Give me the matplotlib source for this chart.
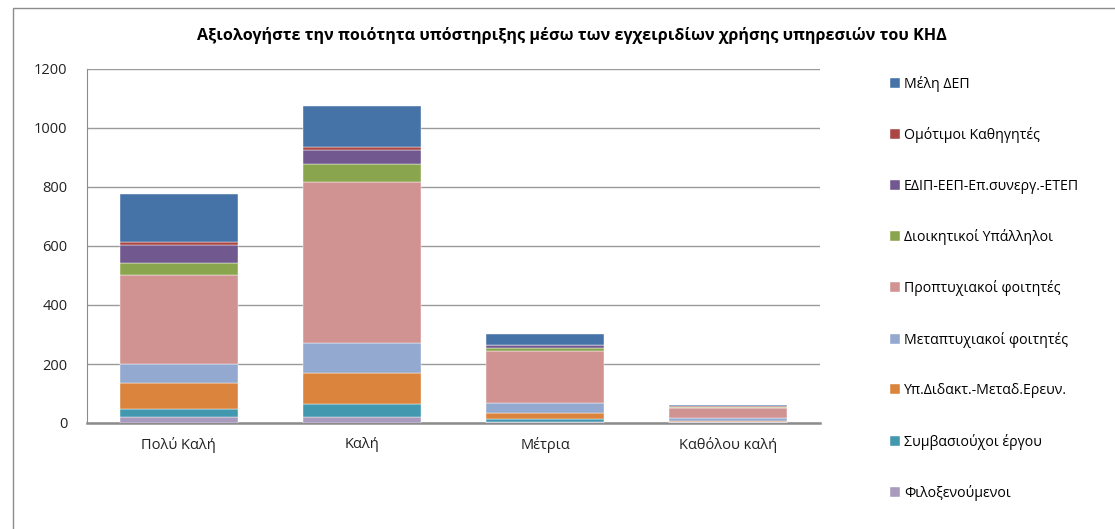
import numpy as np
import matplotlib.pyplot as plt
from matplotlib.patches import Rectangle

plt.rcParams['font.family'] = ['Open Sans', 'DejaVu Sans']

categories = ["Πολύ Καλή", "Καλή", "Μέτρια", "Καθόλου καλή"]

# stacked from bottom to top
series = [
    "Φιλοξενούμενοι",
    "Συμβασιούχοι έργου",
    "Υπ.Διδακτ.-Μεταδ.Ερευν.",
    "Μεταπτυχιακοί φοιτητές",
    "Προπτυχιακοί φοιτητές",
    "Διοικητικοί Υπάλληλοι",
    "ΕΔΙΠ-ΕΕΠ-Επ.συνεργ.-ΕΤΕΠ",
    "Ομότιμοι Καθηγητές",
    "Μέλη ΔΕΠ",
]
filoxenoumenoi = [19, 20, 5, 3]
symvasiouxoi = [28, 43, 7, 2]
yp_didakt = [87, 105, 22, 3]
metaptyxiakoi = [65, 104, 33, 8]
proptyxiakoi = [303, 546, 176, 35]
dioikitikoi = [39, 61, 12, 2]
edip = [64, 45, 8, 2]
omotimoi = [8, 13, 2, 1]
meli_dep = [162, 138, 37, 6]

values = [filoxenoumenoi, symvasiouxoi, yp_didakt, metaptyxiakoi,
          proptyxiakoi, dioikitikoi, edip, omotimoi, meli_dep]
colors = ["#A99BBD", "#4198AF", "#DB843D", "#93A9CF", "#D19392",
          "#89A54E", "#71588F", "#AA4643", "#4572A7"]

fig = plt.figure(figsize=(11.15, 5.29), dpi=100)
ax = fig.add_axes([87/1115, 1 - 423/529, (820 - 87)/1115, (423 - 69)/529])

# chart border
fig.patches.append(Rectangle((13/1115, -0.05), 1.2, 1 - 8/529 + 0.05,
                             transform=fig.transFigure, fill=False,
                             edgecolor="#8c8c8c", linewidth=1))

x = np.arange(len(categories))
bottom = np.zeros(len(categories))
for name, vals, c in zip(series, values, colors):
    ax.bar(x, vals, 0.645, bottom=bottom, color=c, label=name,
           edgecolor="white", linewidth=0.3, zorder=3)
    bottom += np.array(vals)

ax.set_xlim(-0.5, 3.5)
ax.set_ylim(0, 1200)
ax.set_yticks(range(0, 1201, 200))
ax.set_xticks(x)
ax.set_xticklabels(categories)
ax.tick_params(axis="both", length=0, labelsize=10.5, colors="#222222")
ax.tick_params(axis="y", pad=14)
ax.tick_params(axis="x", pad=10)
ax.grid(axis="y", color="#9a9a9a", linewidth=1, zorder=0)
for s in ["top", "right"]:
    ax.spines[s].set_visible(False)
ax.spines["left"].set_color("#8c8c8c")
ax.spines["bottom"].set_color("#8c8c8c")
ax.spines["bottom"].set_linewidth(1.8)

fig.text(572/1115, 1 - 35/529,
         "Αξιολογήστε την ποιότητα υπόστηριξης μέσω των εγχειριδίων χρήσης υπηρεσιών του ΚΗΔ",
         ha="center", va="center", fontsize=11.6, fontweight="bold")

handles, labels = ax.get_legend_handles_labels()
fig.legend(handles[::-1], labels[::-1], loc="upper left",
           bbox_to_anchor=(877/1115, 1 - 63/529), frameon=False,
           fontsize=10.2, handlelength=0.7, handleheight=0.7,
           handletextpad=0.3, labelspacing=2.5)

fig.savefig("out.png", dpi=100)
